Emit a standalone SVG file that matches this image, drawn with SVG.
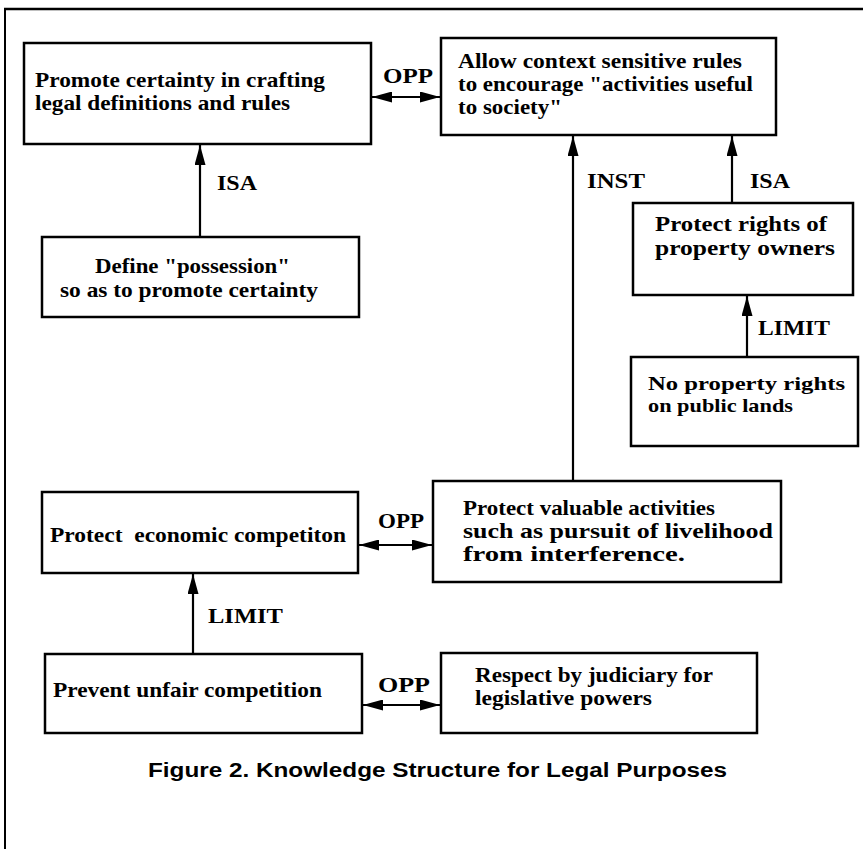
<svg xmlns="http://www.w3.org/2000/svg" width="863" height="849" viewBox="0 0 863 849">
<style>
.box{fill:#fff;stroke:#000;stroke-width:2.5}
.t{font-family:"Liberation Serif","DejaVu Serif",serif;font-weight:bold;font-size:21px;fill:#000}
.s{font-size:19px}
.lb{font-family:"Liberation Serif","DejaVu Serif",serif;font-weight:bold;font-size:21px;fill:#000}
.cap{font-family:"Liberation Sans","DejaVu Sans",sans-serif;font-weight:bold;font-size:20px;fill:#000}
.c{stroke:#000;stroke-width:2.2;fill:none}
</style>
<defs>
<marker id="ah" viewBox="0 0 20 11" refX="20" refY="5.5" markerWidth="20" markerHeight="11" markerUnits="userSpaceOnUse" orient="auto-start-reverse">
<path d="M0,0 L20,5.5 L0,11 Z" fill="#000"/>
</marker>
</defs>
<rect width="863" height="849" fill="#fff"/>
<g id="frame">
<line x1="4" y1="9" x2="863" y2="9" stroke="#000" stroke-width="2.5"/>
<line x1="5" y1="9" x2="5" y2="849" stroke="#000" stroke-width="2"/>
</g>
<g id="connectors">
<line class="c" x1="372" y1="97" x2="440" y2="97" marker-start="url(#ah)" marker-end="url(#ah)"/>
<line class="c" x1="200" y1="237" x2="200" y2="145" marker-end="url(#ah)"/>
<line class="c" x1="573" y1="481" x2="573" y2="136" marker-end="url(#ah)"/>
<line class="c" x1="732" y1="203" x2="732" y2="136" marker-end="url(#ah)"/>
<line class="c" x1="747" y1="357" x2="747" y2="296" marker-end="url(#ah)"/>
<line class="c" x1="359" y1="545" x2="432" y2="545" marker-start="url(#ah)" marker-end="url(#ah)"/>
<line class="c" x1="193" y1="654" x2="193" y2="574" marker-end="url(#ah)"/>
<line class="c" x1="363" y1="705" x2="440" y2="705" marker-start="url(#ah)" marker-end="url(#ah)"/>
<text class="lb" x="383" y="83" textLength="50" lengthAdjust="spacingAndGlyphs">OPP</text>
<text class="lb" x="217" y="190" textLength="40" lengthAdjust="spacingAndGlyphs">ISA</text>
<text class="lb" x="587" y="188" textLength="58" lengthAdjust="spacingAndGlyphs">INST</text>
<text class="lb" x="750" y="188" textLength="40" lengthAdjust="spacingAndGlyphs">ISA</text>
<text class="lb" x="758" y="335" textLength="72" lengthAdjust="spacingAndGlyphs">LIMIT</text>
<text class="lb" x="378" y="528" textLength="46" lengthAdjust="spacingAndGlyphs">OPP</text>
<text class="lb" x="208" y="623" textLength="75" lengthAdjust="spacingAndGlyphs">LIMIT</text>
<text class="lb" x="378" y="692" textLength="52" lengthAdjust="spacingAndGlyphs">OPP</text>
</g>
<g id="n1">
<rect class="box" x="24" y="43" width="347" height="101"/>
<text class="t" x="35" y="87" textLength="290" lengthAdjust="spacingAndGlyphs">Promote certainty in crafting</text>
<text class="t" x="35" y="110" textLength="255" lengthAdjust="spacingAndGlyphs">legal definitions and rules</text>
</g>
<g id="n2">
<rect class="box" x="42" y="237" width="317" height="80"/>
<text class="t" x="95" y="273" textLength="195" lengthAdjust="spacingAndGlyphs">Define "possession"</text>
<text class="t" x="60" y="297" textLength="258" lengthAdjust="spacingAndGlyphs">so as to promote certainty</text>
</g>
<g id="n3">
<rect class="box" x="441" y="38" width="335" height="97"/>
<text class="t" x="458" y="68" textLength="284" lengthAdjust="spacingAndGlyphs">Allow context sensitive rules</text>
<text class="t" x="458" y="91" textLength="295" lengthAdjust="spacingAndGlyphs">to encourage "activities useful</text>
<text class="t" x="458" y="114" textLength="104" lengthAdjust="spacingAndGlyphs">to society"</text>
</g>
<g id="n4">
<rect class="box" x="633" y="203" width="220" height="92"/>
<text class="t" x="655" y="231" textLength="172" lengthAdjust="spacingAndGlyphs">Protect rights of</text>
<text class="t" x="655" y="255" textLength="180" lengthAdjust="spacingAndGlyphs">property owners</text>
</g>
<g id="n5">
<rect class="box" x="631" y="357" width="227" height="89"/>
<text class="t s" x="648" y="390" textLength="197" lengthAdjust="spacingAndGlyphs">No property rights</text>
<text class="t s" x="648" y="412" textLength="145" lengthAdjust="spacingAndGlyphs">on public lands</text>
</g>
<g id="n6">
<rect class="box" x="433" y="481" width="348" height="101"/>
<text class="t" x="463" y="515" textLength="252" lengthAdjust="spacingAndGlyphs">Protect valuable activities</text>
<text class="t" x="463" y="538" textLength="310" lengthAdjust="spacingAndGlyphs">such as pursuit of livelihood</text>
<text class="t" x="463" y="561" textLength="222" lengthAdjust="spacingAndGlyphs">from interference.</text>
</g>
<g id="n7">
<rect class="box" x="42" y="492" width="316" height="81"/>
<text class="t" x="50" y="542" textLength="296" lengthAdjust="spacingAndGlyphs" xml:space="preserve">Protect  economic competiton</text>
</g>
<g id="n8">
<rect class="box" x="45" y="654" width="317" height="79"/>
<text class="t" x="53" y="697" textLength="269" lengthAdjust="spacingAndGlyphs">Prevent unfair competition</text>
</g>
<g id="n9">
<rect class="box" x="441" y="653" width="316" height="80"/>
<text class="t" x="475" y="682" textLength="238" lengthAdjust="spacingAndGlyphs">Respect by judiciary for</text>
<text class="t" x="475" y="705" textLength="177" lengthAdjust="spacingAndGlyphs">legislative powers</text>
</g>
<g id="caption">
<text class="cap" x="148" y="777" textLength="579" lengthAdjust="spacingAndGlyphs">Figure 2. Knowledge Structure for Legal Purposes</text>
</g>
</svg>
